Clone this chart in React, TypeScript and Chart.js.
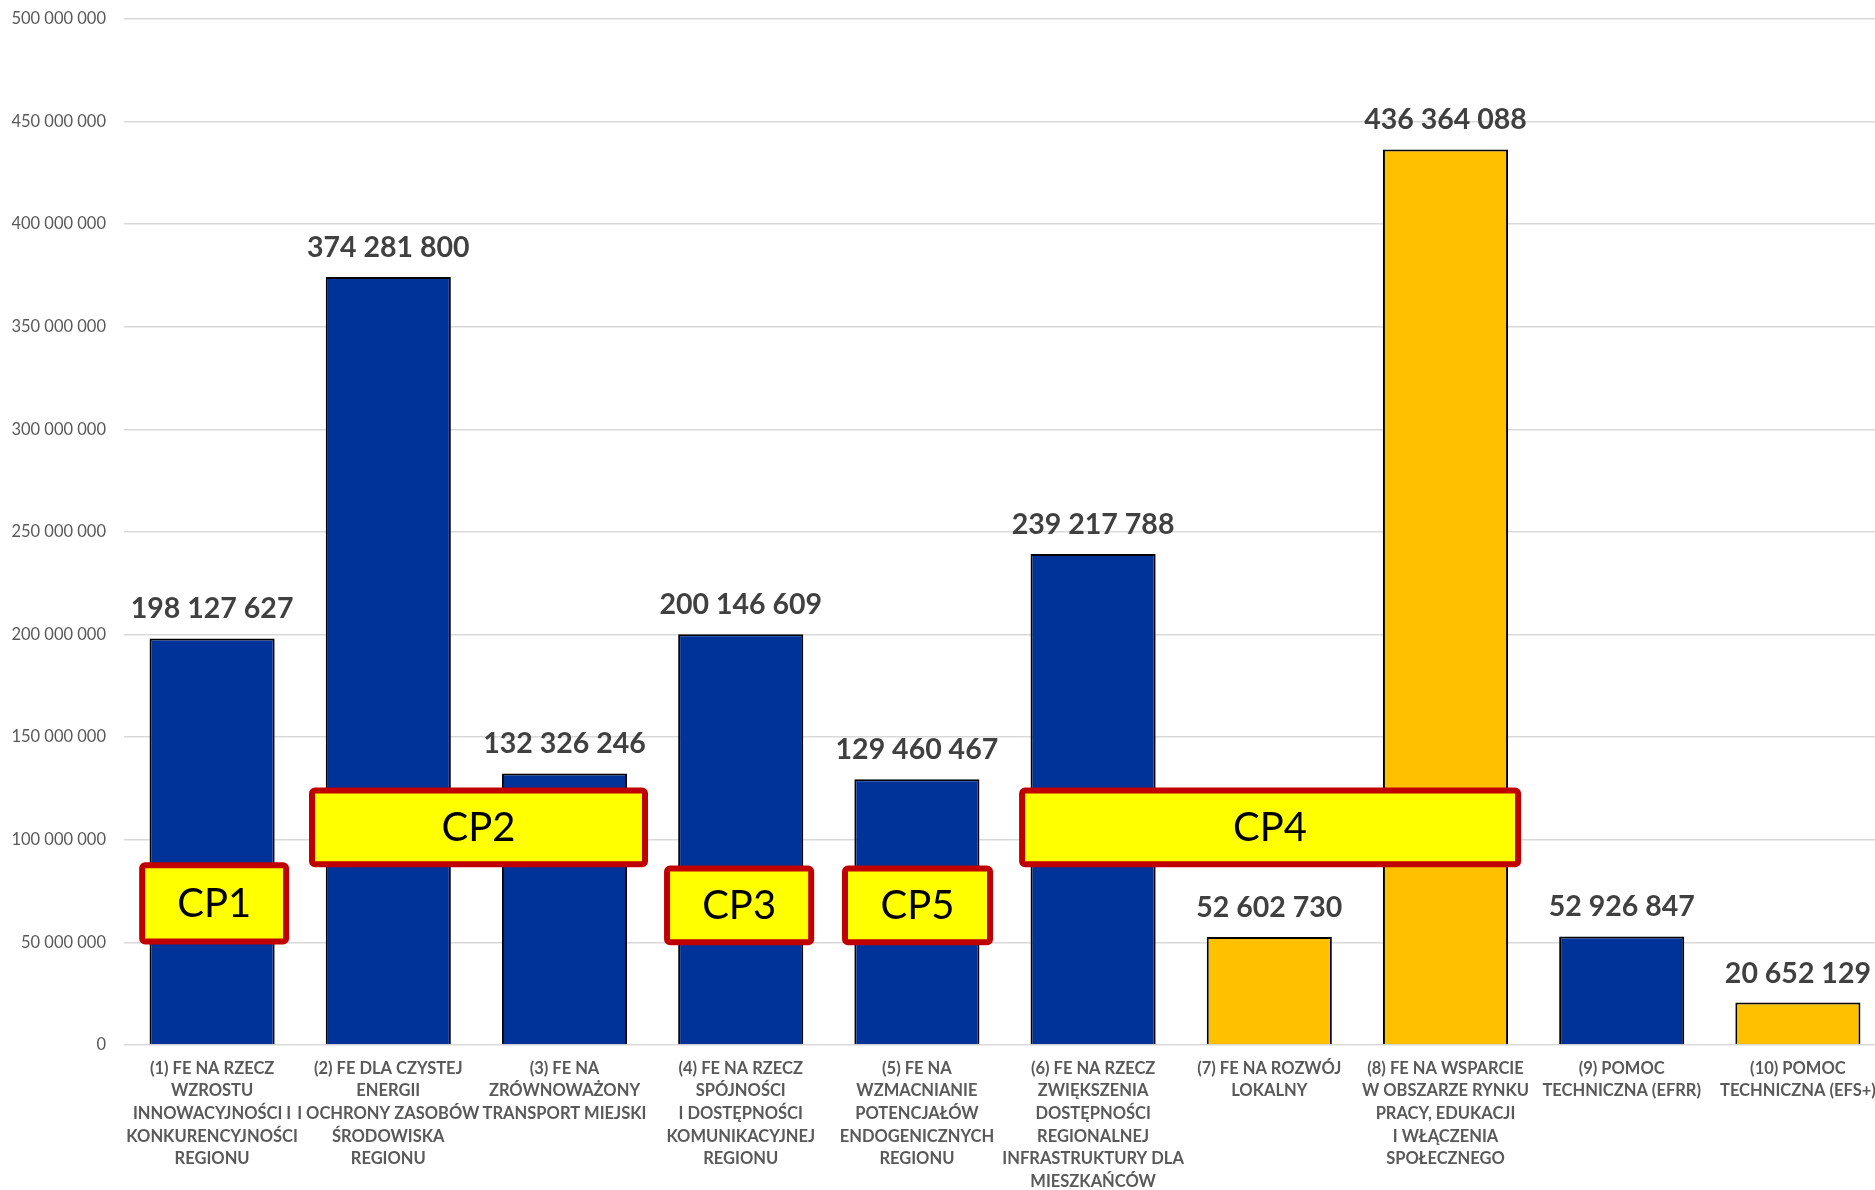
import React, { useEffect, useRef } from "react";
import { Chart, registerables } from "chart.js";

Chart.register(...registerables);

const categories: string[][] = [
  ["(1) FE NA RZECZ", "WZROSTU", "INNOWACYJNOŚCI I", "KONKURENCYJNOŚCI", "REGIONU"],
  ["(2) FE DLA CZYSTEJ", "ENERGII", "I OCHRONY ZASOBÓW", "ŚRODOWISKA", "REGIONU"],
  ["(3) FE NA", "ZRÓWNOWAŻONY", "TRANSPORT MIEJSKI"],
  ["(4) FE NA RZECZ", "SPÓJNOŚCI", "I DOSTĘPNOŚCI", "KOMUNIKACYJNEJ", "REGIONU"],
  ["(5) FE NA", "WZMACNIANIE", "POTENCJAŁÓW", "ENDOGENICZNYCH", "REGIONU"],
  ["(6) FE NA RZECZ", "ZWIĘKSZENIA", "DOSTĘPNOŚCI", "REGIONALNEJ", "INFRASTRUKTURY DLA", "MIESZKAŃCÓW"],
  ["(7) FE NA ROZWÓJ", "LOKALNY"],
  ["(8) FE NA WSPARCIE", "W OBSZARZE RYNKU", "PRACY, EDUKACJI", "I WŁĄCZENIA", "SPOŁECZNEGO"],
  ["(9) POMOC", "TECHNICZNA (EFRR)"],
  ["(10) POMOC", "TECHNICZNA (EFS+)"],
];

const values: number[] = [
  198127627, 374281800, 132326246, 200146609, 129460467,
  239217788, 52602730, 436364088, 52926847, 20652129,
];

// fund of each priority: "EFRR" (blue) or "EFS+" (orange)
const funds: string[] = ["EFRR", "EFRR", "EFRR", "EFRR", "EFRR", "EFRR", "EFS+", "EFS+", "EFRR", "EFS+"];

const yTicks: number[] = [0, 50000000, 100000000, 150000000, 200000000, 250000000, 300000000, 350000000, 400000000, 450000000, 500000000];

// CP group labels: text, category span (index units), value span
const cpLabels: string[] = ["CP1", "CP2", "CP3", "CP5", "CP4"];
const cpFrom: number[] = [-0.414, 0.55, 2.565, 3.575, 4.58];
const cpTo: number[] = [0.437, 2.474, 3.417, 4.432, 7.429];
const cpLow: number[] = [49000000, 86600000, 48600000, 48600000, 86600000];
const cpHigh: number[] = [89000000, 125500000, 87500000, 87500000, 125500000];

const COLORS: Record<string, string> = { EFRR: "#003399", "EFS+": "#FFC000" };

function fmt(n: number): string {
  return Math.round(n).toString().replace(/\B(?=(\d{3})+(?!\d))/g, " ");
}

const FONT = "Lato, 'Open Sans', sans-serif";

const overlayPlugin = {
  id: "overlay",
  afterDatasetsDraw(chart: any) {
    const ctx = chart.ctx;
    const meta = chart.getDatasetMeta(0);
    ctx.save();
    // data labels
    ctx.font = `bold 28.5px ${FONT}`;
    ctx.fillStyle = "#404040";
    ctx.textAlign = "center";
    ctx.textBaseline = "alphabetic";
    meta.data.forEach((bar: any, i: number) => {
      ctx.fillText(fmt(values[i]), bar.x, bar.y - 20);
    });
    // CP boxes
    const xs = chart.scales.x;
    const ys = chart.scales.y;
    const step = xs.getPixelForValue(1) - xs.getPixelForValue(0);
    const x0 = xs.getPixelForValue(0);
    cpLabels.forEach((label, i) => {
      const l = x0 + cpFrom[i] * step;
      const r = x0 + cpTo[i] * step;
      const t = ys.getPixelForValue(cpHigh[i]);
      const b = ys.getPixelForValue(cpLow[i]);
      const lw = 6;
      ctx.beginPath();
      ctx.roundRect(l + lw / 2, t + lw / 2, r - l - lw, b - t - lw, 3);
      ctx.fillStyle = "#FFFF00";
      ctx.fill();
      ctx.lineWidth = lw;
      ctx.strokeStyle = "#C00000";
      ctx.stroke();
      ctx.fillStyle = "#000000";
      ctx.font = `40px ${FONT}`;
      ctx.textAlign = "center";
      ctx.textBaseline = "middle";
      ctx.fillText(label, (l + r) / 2, (t + b) / 2 + 1);
    });
    ctx.restore();
  },
};

export default function App() {
  const ref = useRef<HTMLCanvasElement | null>(null);
  useEffect(() => {
    if (!ref.current) return;
    const chart = new Chart(ref.current, {
      type: "bar",
      data: {
        labels: categories,
        datasets: [
          {
            data: values,
            backgroundColor: funds.map((f) => COLORS[f]),
            borderColor: "#000000",
            borderWidth: 2,
            barPercentage: 0.71,
            categoryPercentage: 1,
          },
        ],
      },
      options: {
        responsive: false,
        animation: false,
        devicePixelRatio: 1,
        layout: { padding: { top: 7, right: 14, left: 0, bottom: 0 } },
        plugins: { legend: { display: false }, tooltip: { enabled: false }, title: { display: false } },
        scales: {
          x: {
            grid: { display: false, drawTicks: false },
            border: { display: false },
            ticks: {
              autoSkip: false,
              maxRotation: 0,
              minRotation: 0,
              padding: 12,
              color: "#595959",
              font: { family: FONT, size: 16.5, weight: "bold", lineHeight: 1.375 },
            },
            afterFit: (scale: any) => {
              scale.height = 160;
            },
          },
          y: {
            min: 0,
            max: 500000000,
            afterBuildTicks: (scale: any) => {
              scale.ticks = yTicks.map((v) => ({ value: v }));
            },
            grid: { color: "#d9d9d9", lineWidth: 1.5, drawTicks: false },
            border: { display: false },
            ticks: {
              padding: 18,
              color: "#595959",
              font: { family: FONT, size: 16.5 },
              callback: (v: any) => fmt(Number(v)),
            },
            afterFit: (scale: any) => {
              scale.width = 124;
            },
          },
        },
      },
      plugins: [overlayPlugin],
    });
    return () => chart.destroy();
  }, []);
  return (
    <div style={{ position: "fixed", top: 0, left: 0, width: 1875, height: 1190, overflow: "hidden", background: "#fff" }}>
      <canvas
        ref={ref}
        width={1900}
        height={1214}
        style={{ width: 1900, height: 1214, display: "block", marginTop: -9 }}
      />
    </div>
  );
}
